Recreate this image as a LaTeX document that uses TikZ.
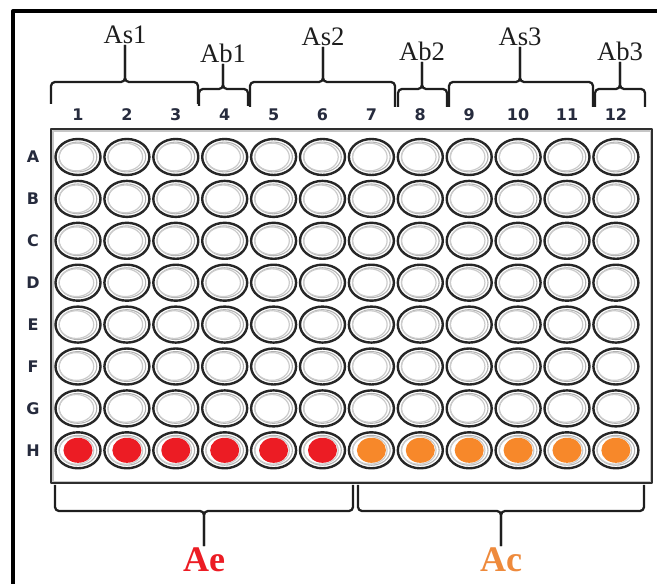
\documentclass[tikz,border=0pt]{standalone}
\usepackage{fontspec}
\setmainfont{Liberation Serif}
\newfontfamily\gridfont{DejaVu Sans}
\usetikzlibrary{positioning,shapes.geometric,calc}
\definecolor{wellred}{HTML}{EC1C24}
\definecolor{wellorange}{HTML}{F7882A}
\definecolor{textorange}{HTML}{EE8A3C}
\definecolor{ink}{HTML}{1E1E1E}
\definecolor{navy}{HTML}{262B3D}

\begin{document}
\begin{tikzpicture}[
  x=0.75pt,y=-0.75pt,
  line cap=butt,line join=round,
  frame/.style={draw=black,line width=3pt},
  plate/.style={draw=black!82,line width=1.8pt,fill=white,anchor=north west,
                minimum width=450.75pt,minimum height=265.5pt,inner sep=0pt},
  well/.style={ellipse,draw=black!85,line width=1.8pt,fill=white,
               minimum width=33.75pt,minimum height=27pt,inner sep=0pt},
  ring/.style={draw=gray!60,line width=.8pt},
  collabel/.style={font=\gridfont\bfseries\fontsize{12}{14}\selectfont,text=navy,inner sep=1pt},
  rowlabel/.style={font=\gridfont\bfseries\fontsize{12}{14}\selectfont,text=navy,inner sep=1pt},
  toplabel/.style={font=\fontsize{20}{24}\selectfont,text=ink,inner sep=1pt},
  botlabel/.style={font=\bfseries\fontsize{27}{30}\selectfont,inner sep=1pt},
  brace/.style={draw=ink,line width=1.7pt,rounded corners=3pt}
]
\useasboundingbox (0,0) rectangle (657,584);

% Frame
\draw[frame] (13,584) -- (13,11) -- (657,11);

% Plate
\node[plate] (plate) at (50,128) {};
\draw[gray!45,line width=1pt] ([shift={(3,3)}]plate.north west) rectangle ([shift={(-3,-3)}]plate.south east);

% Wells
\foreach \c in {1,...,12}{
  \foreach \r [count=\k] in {A,B,C,D,E,F,G,H}{
    \node[well] (well-\r\c) at ({78+48.9*(\c-1)},{157+41.9*(\k-1)}) {};
    \draw[ring] (well-\r\c.center) ellipse [x radius=14.1pt,y radius=11.2pt];
    \draw[draw=gray!40,line width=.9pt] ([xshift=-1.2pt]well-\r\c.center) ellipse [x radius=13pt,y radius=10.4pt];
  }
}
\foreach \c in {1,...,6}{\fill[wellred] (well-H\c.center) ellipse [x radius=10.9pt,y radius=9.4pt];}
\foreach \c in {7,...,12}{\fill[wellorange] (well-H\c.center) ellipse [x radius=10.9pt,y radius=9.4pt];}

% Column and row labels
\foreach \c in {1,...,12}{\node[collabel] (col-\c) at (well-A\c |- 0,115) {\c};}
\foreach \r in {A,B,C,D,E,F,G,H}{\node[rowlabel] (row-\r) at (33,0 |- well-\r1) {\r};}

% Top braces
\foreach \name/\lx/\rx/\hy/\mx/\ty/\by in {As1/51/198/82/125/45/104,Ab1/199/248/89/223/64/106,
    As2/250/395/82/323/47/107,Ab2/398/447/89/422/62/107,
    As3/449/593/82/520/47/107,Ab3/595/645/89/620/62/107}{
  \node[toplabel,anchor=south] (lbl-\name) at (\mx,\ty) {\name};
  \draw[brace] (\lx,\by) -- (\lx,\hy) -- (\mx,\hy) -- (lbl-\name.south);
  \draw[brace] (\rx,\by) -- (\rx,\hy) -- (\mx,\hy) -- (lbl-\name.south);
}

% Bottom braces
\foreach \name/\col/\lx/\rx/\mx in {Ae/wellred/55/353/204,Ac/textorange/358/644/501}{
  \node[botlabel,anchor=north,text=\col] (lbl-\name) at (\mx,546) {\name};
  \draw[brace] (\lx,485) -- (\lx,511) -- (\mx,511) -- (lbl-\name.north);
  \draw[brace] (\rx,485) -- (\rx,511) -- (\mx,511) -- (lbl-\name.north);
}
\end{tikzpicture}
\end{document}
